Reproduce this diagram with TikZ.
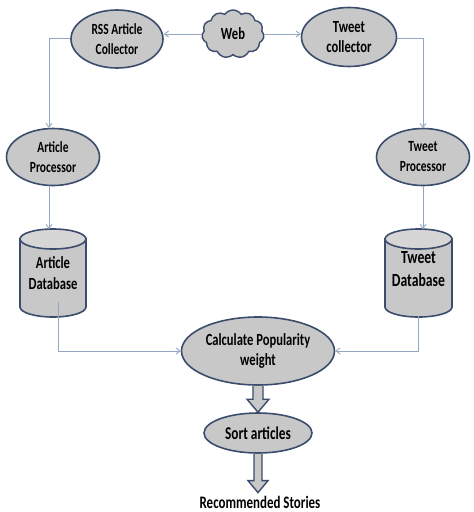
\documentclass[tikz,border=0pt]{standalone}
\usepackage{fontspec}
\setmainfont[FakeStretch=0.74]{Carlito}
\usetikzlibrary{shapes.geometric,shapes.symbols,calc,arrows.meta}
\definecolor{edgeblue}{HTML}{3B4C6C}
\definecolor{boxgray}{HTML}{C8C8C8}
\definecolor{topgray}{HTML}{D6D6D6}
\definecolor{linkblue}{HTML}{94A7C2}
\tikzset{
  oval/.style={ellipse, draw=edgeblue, fill=boxgray, line width=1.6pt, inner sep=0pt, align=center, font=\bfseries\fontsize{17}{20}\selectfont},
  link/.style={draw=linkblue, line width=0.9pt, -{Straight Barb[length=4pt,width=6pt]}},
  fat/.style={draw=edgeblue, fill=boxgray, line width=1.4pt, line join=miter},
  cylbody/.style={draw=edgeblue, fill=boxgray, line width=1.6pt},
  cyltop/.style={draw=edgeblue, fill=topgray, line width=1.6pt},
  dbtext/.style={align=center, inner sep=0pt, font=\bfseries\fontsize{17}{21}\selectfont}
}
\begin{document}
\begin{tikzpicture}[x=1pt,y=-1pt]
\useasboundingbox (0,0) rectangle (474,512);
\fill[white] (0,0) rectangle (474,512);

% nodes
\node[oval, minimum width=92, minimum height=58, font=\bfseries\fontsize{15.5}{20}\selectfont] (rss) at (117,39) {RSS Article\\Collector};
\node[cloud, cloud puffs=11, cloud puff arc=110, aspect=1.3, draw=edgeblue, fill=boxgray, line width=1.4pt, minimum width=62, minimum height=48, inner sep=0pt, font=\bfseries\fontsize{17}{20}\selectfont] (web) at (233,34) {Web};
\node[oval, minimum width=95, minimum height=59] (tc) at (349,37) {Tweet\\collector};
\node[oval, minimum width=93, minimum height=57, font=\bfseries\fontsize{15.5}{20}\selectfont] (ap) at (53,157) {Article\\Processor};
\node[oval, minimum width=93, minimum height=57, font=\bfseries\fontsize{15.5}{20}\selectfont] (tp) at (423,157) {Tweet\\Processor};

% cylinders
\path[cylbody] (20,239) -- (20,307) arc[start angle=180, end angle=0, x radius=33, y radius=10] -- (86,239) -- cycle;
\path[cyltop] (53,239) ellipse[x radius=33, y radius=10];
\node[dbtext, minimum width=66, minimum height=88] (adb) at (53,273) {Article\\Database};
\path[cylbody] (385,239) -- (385,307) arc[start angle=180, end angle=0, x radius=33.5, y radius=10] -- (452,239) -- cycle;
\path[cyltop] (418.5,239) ellipse[x radius=33.5, y radius=10];
\node[dbtext, font=\bfseries\fontsize{18.5}{23}\selectfont, minimum width=67, minimum height=88] (tdb) at (418.5,269) {Tweet\\Database};

\node[oval, minimum width=153, minimum height=68] (calc) at (258,351) {Calculate Popularity\\weight};
\node[oval, minimum width=108, minimum height=40, font=\bfseries\fontsize{18}{20}\selectfont] (sort) at (258,433) {Sort articles};
\node[inner sep=0pt, font=\bfseries\fontsize{17.5}{20}\selectfont] (rec) at (260,502) {Recommended Stories};

% coordinates for connector bends
\coordinate (rssL) at ($(rss.west)+(0,-1)$);
\coordinate (tcR) at ($(tc.east)+(0,1)$);
\coordinate (apTop) at (49,128);
\coordinate (tpTop) at (423,128);

% connectors
\draw[link] (web.west) -- (web.west -| rss.east);
\draw[link] (web.east) -- (web.east -| tc.west);
\draw[link] (rssL) -| (apTop);
\draw[link] (tcR) -| (tpTop);
\draw[link] (ap.south -| apTop) -- (49,229);
\draw[link] (tp.south -| tpTop) -- (423,229);
\coordinate (adbOut) at (58,302);
\coordinate (tdbOut) at (418,316);
\draw[link] (adbOut) |- (calc.west);
\draw[link] (tdbOut) |- (calc.east);

% fat arrows
\draw[fat] ($(calc.south)+(-5,0)$) -- ($(sort.north)+(-5,-13)$) -- ($(sort.north)+(-11,-13)$) -- (sort.north) -- ($(sort.north)+(11,-13)$) -- ($(sort.north)+(5,-13)$) -- ($(calc.south)+(5,0)$);
\draw[fat] ($(sort.south)+(-4,0)$) -- ($(rec.north)+(-6,-15)$) -- ($(rec.north)+(-12,-15)$) -- ($(rec.north)+(-2,-3)$) -- ($(rec.north)+(8,-15)$) -- ($(rec.north)+(2,-15)$) -- ($(sort.south)+(4,0)$);
\end{tikzpicture}
\end{document}
